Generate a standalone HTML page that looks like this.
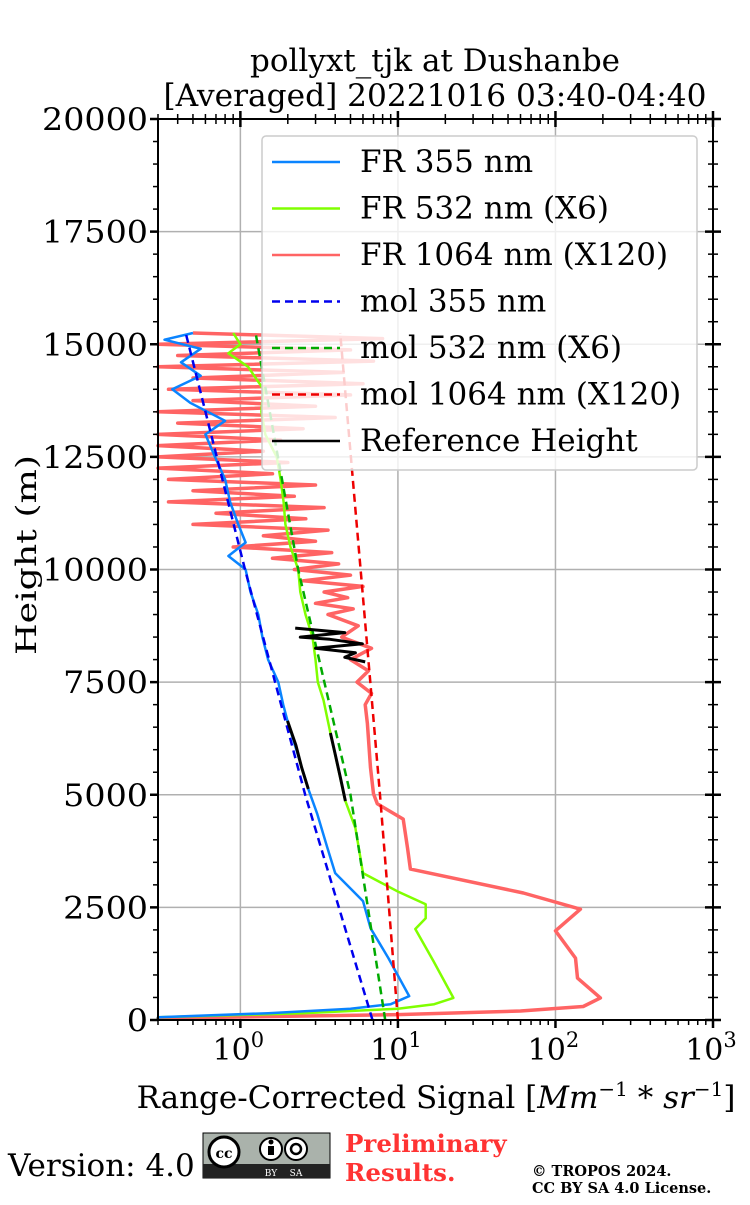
<!DOCTYPE html>
<html><head><meta charset="utf-8"><style>
body{margin:0;background:#fff;}
svg text{font-family:"DejaVu Serif","Liberation Serif",serif;}
</style></head><body>
<svg id="chart" width="750" height="1200" viewBox="0 0 750 1200" xmlns="http://www.w3.org/2000/svg">
<text x="435" y="71" font-size="31" text-anchor="middle" textLength="370" lengthAdjust="spacingAndGlyphs">pollyxt_tjk at Dushanbe</text>
<text x="435" y="106" font-size="31" text-anchor="middle" textLength="543" lengthAdjust="spacingAndGlyphs">[Averaged] 20221016 03:40-04:40</text>
<g id="grid"></g><g id="series"></g><g id="axes"></g><g id="legend"></g>
<text x="436" y="1108" font-size="31" text-anchor="middle">Range-Corrected Signal [<tspan font-style="italic">Mm</tspan><tspan font-size="20" dy="-12">−1</tspan><tspan dy="12"> * </tspan><tspan font-style="italic">sr</tspan><tspan font-size="20" dy="-12">−1</tspan><tspan dy="12">]</tspan></text>
<text transform="translate(36,555) rotate(-90)" font-size="28" text-anchor="middle" textLength="200" lengthAdjust="spacingAndGlyphs">Height (m)</text>
<text x="8" y="1176" font-size="31">Version: 4.0</text>
<g>
<rect x="203" y="1133" width="127" height="45" fill="#aab2ab" stroke="#000" stroke-width="1"/>
<rect x="203" y="1164" width="127" height="14" fill="#222"/>
<circle cx="224" cy="1152" r="15" fill="#fff" stroke="#000" stroke-width="3"/>
<text x="224" y="1158" font-size="14" font-weight="bold" text-anchor="middle" font-family="Liberation Sans,sans-serif">cc</text>
<circle cx="271" cy="1149" r="11" fill="#fff" stroke="#000" stroke-width="2"/>
<circle cx="271" cy="1142" r="2.5" fill="#000"/>
<rect x="268" y="1146" width="6" height="9" fill="#000"/>
<circle cx="296" cy="1149" r="11" fill="#fff" stroke="#000" stroke-width="2"/>
<circle cx="296" cy="1149" r="5" fill="none" stroke="#000" stroke-width="2.5"/>
<text x="271" y="1176" font-size="9" fill="#fff" text-anchor="middle" font-family="Liberation Sans,sans-serif">BY</text>
<text x="296" y="1176" font-size="9" fill="#fff" text-anchor="middle" font-family="Liberation Sans,sans-serif">SA</text>
</g>
<text x="345" y="1152" font-size="24.5" font-weight="bold" fill="#ff3333">Preliminary</text>
<text x="345" y="1181" font-size="24.5" font-weight="bold" fill="#ff3333">Results.</text>
<text x="532" y="1176" font-size="14.5" font-weight="bold">© TROPOS 2024.</text>
<text x="532" y="1193" font-size="14.5" font-weight="bold">CC BY SA 4.0 License.</text>
</svg>
<script>
// ---- data ----
const fr355H=[0,60,150,250,350,530,1375,2040,2640,3260,3820,4570,5130,6640,7000,7500,8000,8500,9000,9500,10000,10300,10600,11000,11500,12000,12500,13000,13300,13700,14000,14300,14600,14900,15100,15250];
const fr355V=[0.3,0.3,1.5,5,9,11.8,8.7,6.7,6.0,4.0,3.57,3.08,2.70,1.99,1.87,1.74,1.5,1.38,1.3,1.16,1.08,0.84,1.08,0.97,0.86,0.8,0.69,0.6,0.8,0.48,0.37,0.56,0.42,0.56,0.33,0.5];
const fr532H=[0,60,150,250,350,490,1310,2020,2260,2570,2860,3260,4260,4860,6370,7100,7500,8000,8500,9000,9500,10000,10500,11000,11500,12000,12500,13000,13500,14000,14500,14800,15000,15250];
const fr532V=[0.3,0.3,2.5,10,17,22.5,16.8,12.9,15.0,15.0,9.9,6.0,5.37,4.64,3.73,3.37,3.1,3.0,2.87,2.59,2.4,2.33,2.08,1.93,1.88,1.8,1.7,1.44,1.36,1.4,1.12,0.84,1.0,0.9];
const fr1064H=[0,40,120,200,300,490,930,1375,1980,2460,2820,3350,3820,4460,4800,5020,5600,6580,7000,7250,7500,7750,8000,8250,8500,8750,
 9000,9125,9250,9375,9500,9625,9750,9875,10000,10125,10250,10375,10500,10625,10750,10875,11000,11125,11250,11375,11500,11625,11750,11875,
 12000,12125,12250,12375,12500,12625,12750,12875,13000,13125,13250,13375,13500,13625,13750,13875,14000,14125,14250,14375,14500,14625,14750,14875,15000,15125,15250];
const fr1064V=[0.3,0.3,10,60,150,193,138,134,100,144,62.6,12.0,11.5,10.8,7.4,7.0,6.7,6.4,6.2,6.8,5.5,6.5,5.0,6.8,4.4,5.6,
 3.6,5.2,3.0,4.8,3.4,6.0,2.5,5.0,2.2,4.2,1.6,3.8,0.9,3.0,1.4,3.6,0.5,2.6,0.7,3.4,0.35,2.2,0.5,3.0,
 0.35,1.6,0.3,2.0,0.3,1.4,0.3,1.8,0.3,2.5,0.4,4.0,0.3,3.0,0.5,5.0,0.35,6.0,0.5,4.5,0.3,7.0,0.4,5.0,0.3,8.0,0.5];
const molH=[0,5000,10000,15250];
const mol355V=[6.9,2.58,1.07,0.45];
const mol532V=[8.3,5.0,2.33,1.25];
const mol1064V=[10,7.7,5.8,4.3];
const refBlueH=[5130,5600,6100,6640];
const refBlueV=[2.70,2.45,2.25,1.99];
const refGreenH=[4860,5400,5900,6370];
const refGreenV=[4.64,4.3,4.0,3.73];
const refRedH=[7950,8050,8150,8250,8350,8450,8500,8600,8700];
const refRedV=[6.2,4.6,5.37,3.0,5.95,3.7,2.4,4.6,2.23];
const yTicks=[0,2500,5000,7500,10000,12500,15000,17500,20000];
const xExps=[0,1,2,3];

// ---- axes ----
const L=158,R=713,T=119,B=1020;
const xMin=Math.log10(0.3),xMax=3;
function X(v){return L+(Math.log10(v)-xMin)/(xMax-xMin)*(R-L);}
function Y(h){return B-(h/20000)*(B-T);}
const NS='http://www.w3.org/2000/svg';
function mk(tag,attrs,parent){const e=document.createElementNS(NS,tag);for(const k in attrs)e.setAttribute(k,attrs[k]);parent.appendChild(e);return e;}
const grid=document.getElementById('grid'),axes=document.getElementById('axes'),ser=document.getElementById('series'),leg=document.getElementById('legend');

yTicks.forEach(t=>{
  const g=mk('line',{x1:L,x2:R,y1:Y(t),y2:Y(t),stroke:'#b0b0b0','stroke-width':1.5},grid);
  
  
  const tx=mk('text',{x:L-10,y:Y(t)+11,'font-size':31,'text-anchor':'end'},axes);
  tx.textContent=t;
  tx.setAttribute('textLength',String(t).length*21.2);
  tx.setAttribute('lengthAdjust','spacingAndGlyphs');
  
  
  mk('line',{x1:L-8,x2:L,y1:Y(t),y2:Y(t),stroke:'#000','stroke-width':2.5},axes);
  mk('line',{x1:R-8,x2:R+8,y1:Y(t),y2:Y(t),stroke:'#000','stroke-width':2.5},axes);
});
for(let h=500;h<20000;h+=500){if(h%2500===0)continue;
  mk('line',{x1:L-5,x2:L,y1:Y(h),y2:Y(h),stroke:'#000','stroke-width':1.5},axes);
  mk('line',{x1:R-5,x2:R+5,y1:Y(h),y2:Y(h),stroke:'#000','stroke-width':1.5},axes);}
xExps.forEach(e=>{const x=X(Math.pow(10,e));
  const g=mk('line',{x1:x,x2:x,y1:T,y2:B,stroke:'#b0b0b0','stroke-width':1.5},grid);
  
  
  mk('line',{x1:x,x2:x,y1:B,y2:B+8,stroke:'#000','stroke-width':2.5},axes);
  mk('line',{x1:x,x2:x,y1:T-8,y2:T+8,stroke:'#000','stroke-width':2.5},axes);
  const tx=mk('text',{x:x-2,y:B+40,'font-size':30,'text-anchor':'middle'},axes);
  tx.innerHTML='10<tspan font-size="21" dy="-13">'+e+'</tspan>';
  
  
});
for(let e=-1;e<3;e++)for(let m=2;m<10;m++){const v=m*Math.pow(10,e);if(v<0.3)continue;const x=X(v);
  mk('line',{x1:x,x2:x,y1:B,y2:B+5,stroke:'#000','stroke-width':1.5},axes);
  mk('line',{x1:x,x2:x,y1:T-5,y2:T+5,stroke:'#000','stroke-width':1.5},axes);}
const frame=mk('rect',{x:L,y:T,width:R-L,height:B-T,fill:'none',stroke:'#000','stroke-width':2},axes);



function pts(H,V){return H.map((h,i)=>X(Math.max(V[i],0.3)).toFixed(1)+','+Y(h).toFixed(1)).join(' ');}
function line(H,V,color,dash,name,w){
  const p=mk('polyline',{points:pts(H,V),fill:'none',stroke:color,'stroke-width':w||2.5,'stroke-linejoin':'round'},ser);
  if(dash)p.setAttribute('stroke-dasharray','8,5');
  
  
}
line(fr1064H,fr1064V,'#ff6464',null,'fr-1064-line',3.5);
line(fr532H,fr532V,'#80ff00',null,'fr-532-line');
line(fr355H,fr355V,'#0a84ff',null,'fr-355-line');
line(molH,mol355V,'#0000ee','d','mol-355-line');
line(molH,mol532V,'#00aa00','d','mol-532-line');
line(molH,mol1064V,'#ee0000','d','mol-1064-line');
line(refBlueH,refBlueV,'#000',null,'reference-height-355',3);
line(refGreenH,refGreenV,'#000',null,'reference-height-532',3);
line(refRedH,refRedV,'#000',null,'reference-height-1064',3);

// legend
const lb=mk('rect',{x:262,y:136,width:435,height:334,rx:4,fill:'rgba(255,255,255,0.8)',stroke:'#ccc','stroke-width':1.5},leg);


const legLabels=['FR 355 nm','FR 532 nm (X6)','FR 1064 nm (X120)','mol 355 nm','mol 532 nm (X6)','mol 1064 nm (X120)','Reference Height'];
const legColors=['#0a84ff','#80ff00','#ff6464','#0000ee','#00aa00','#ee0000','#000'];
legLabels.forEach((s,i)=>{const y=162+i*46.5;
  const ln=mk('line',{x1:272,x2:340,y1:y,y2:y,stroke:legColors[i],'stroke-width':2.5},leg);
  if(i>=3&&i<6)ln.setAttribute('stroke-dasharray','8,5');
  
  
  const t=mk('text',{x:360,y:y+10,'font-size':31},leg);t.textContent=s;
  
  
});
</script>
</body></html>
